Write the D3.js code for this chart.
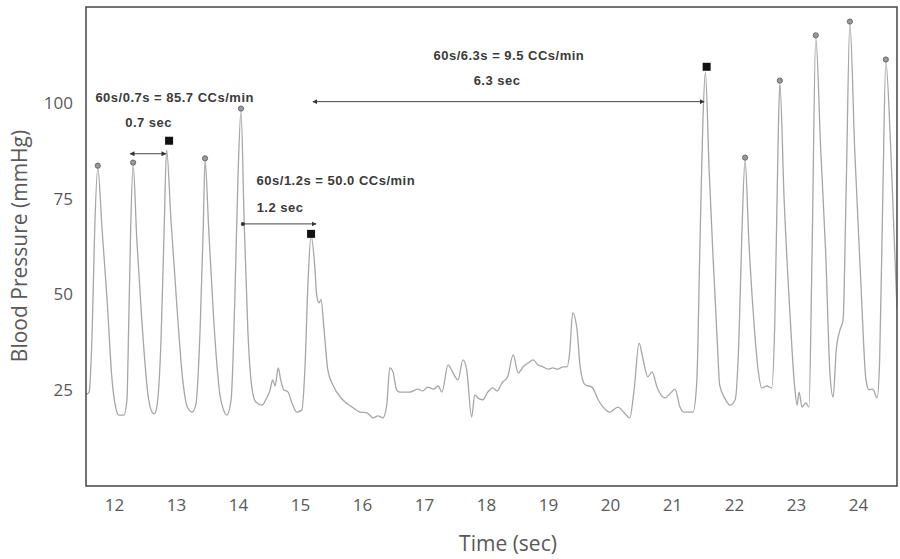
<!DOCTYPE html>
<html>
<head>
<meta charset="utf-8">
<script src="https://cdn.jsdelivr.net/npm/d3@7"></script>
<style>
  body { margin: 0; background: #fff; }
  svg { display: block; }
</style>
</head>
<body>
<script>
// blood pressure trace
const timeSec = [
  11.55, 11.60, 11.65, 11.69, 11.74, 11.81, 11.89, 11.97, 12.03, 12.08, 12.16, 12.21, 12.24, 12.27, 12.31,
  12.37, 12.45, 12.55, 12.60, 12.65, 12.69, 12.76, 12.81, 12.85, 12.92, 13.02, 13.11, 13.19, 13.26, 13.32,
  13.39, 13.44, 13.47, 13.53, 13.61, 13.71, 13.77, 13.82, 13.89, 13.95, 14.00, 14.05, 14.10, 14.16, 14.23,
  14.29, 14.39, 14.45, 14.52, 14.56, 14.60, 14.65, 14.69, 14.74, 14.81, 14.87, 14.95, 15.03, 15.08, 15.13,
  15.18, 15.24, 15.27, 15.31, 15.34, 15.39, 15.45, 15.53, 15.69, 15.84, 15.97, 16.08, 16.18, 16.26, 16.34,
  16.40, 16.45, 16.50, 16.56, 16.61, 16.77, 16.90, 16.98, 17.06, 17.16, 17.23, 17.29, 17.39, 17.47, 17.55,
  17.63, 17.69, 17.77, 17.82, 17.87, 17.95, 18.03, 18.11, 18.18, 18.26, 18.35, 18.44, 18.52, 18.60, 18.68,
  18.76, 18.84, 18.92, 19.00, 19.08, 19.16, 19.24, 19.31, 19.35, 19.40, 19.47, 19.52, 19.60, 19.71, 19.81,
  19.89, 20.00, 20.13, 20.23, 20.32, 20.39, 20.47, 20.53, 20.61, 20.68, 20.76, 20.89, 20.98, 21.05, 21.13,
  21.19, 21.34, 21.40, 21.45, 21.50, 21.54, 21.60, 21.66, 21.73, 21.77, 21.85, 21.94, 22.02, 22.08, 22.13,
  22.18, 22.24, 22.32, 22.39, 22.45, 22.53, 22.61, 22.66, 22.71, 22.74, 22.81, 22.90, 22.98, 23.02, 23.05,
  23.10, 23.16, 23.21, 23.26, 23.32, 23.40, 23.48, 23.55, 23.60, 23.65, 23.71, 23.76, 23.81, 23.87, 23.95,
  24.05, 24.13, 24.18, 24.24, 24.31, 24.35, 24.40, 24.45, 24.53, 24.63
];
const pressure = [
  23.8, 24.5, 40.7, 66.8, 83.0, 66.8, 48.6, 27.7, 20.4, 18.5, 18.5, 22.5, 43.3, 66.8, 83.8,
  64.2, 43.3, 23.8, 19.8, 18.8, 20.4, 38.1, 66.8, 87.7, 69.5, 46.0, 27.7, 20.4, 19.3, 21.1,
  40.7, 66.8, 84.9, 66.8, 43.3, 23.8, 19.8, 18.5, 22.5, 48.6, 79.9, 97.9, 69.5, 40.7, 25.1,
  21.9, 21.1, 22.5, 25.1, 27.7, 26.1, 30.8, 27.7, 25.1, 24.5, 21.7, 19.3, 19.8, 30.3, 53.0,
  65.3, 57.2, 49.9, 47.8, 48.6, 40.7, 30.3, 26.4, 22.5, 20.6, 19.3, 19.1, 17.8, 18.3, 17.8,
  21.1, 30.8, 29.8, 25.1, 24.5, 24.5, 25.3, 24.8, 25.8, 25.3, 26.1, 24.5, 31.6, 29.5, 27.7,
  32.9, 30.3, 18.0, 23.8, 23.0, 22.5, 24.5, 25.6, 24.8, 26.9, 28.5, 34.2, 29.5, 31.1, 32.1,
  32.9, 31.6, 31.1, 30.5, 30.8, 30.5, 31.1, 31.1, 34.7, 45.2, 40.7, 31.1, 26.4, 25.8, 22.5,
  20.6, 19.3, 20.6, 19.1, 17.8, 25.1, 37.3, 33.4, 28.5, 29.8, 25.8, 23.0, 24.3, 25.3, 20.6,
  19.3, 19.3, 26.9, 61.6, 95.6, 108.0, 82.5, 60.8, 38.1, 26.4, 23.0, 21.1, 22.5, 38.1, 66.8,
  85.1, 64.2, 43.3, 30.3, 25.6, 26.1, 25.6, 43.3, 87.7, 105.2, 74.7, 46.0, 25.8, 21.1, 24.5,
  20.6, 21.7, 20.6, 60.8, 117.0, 87.7, 60.8, 29.0, 23.2, 35.5, 40.7, 43.3, 77.3, 120.6, 86.9,
  52.0, 27.7, 25.1, 25.3, 23.0, 32.9, 74.7, 110.7, 87.7, 46.0
];

// round peak markers
const peakTimes = [11.74, 12.31, 13.47, 14.05, 22.18, 22.74, 23.32, 23.87, 24.45];
const peakValues = [83.6, 84.4, 85.5, 98.5, 85.7, 105.8, 117.6, 121.2, 111.3];

// square markers at the measured beats
const squareTimes = [12.89, 15.18, 21.56];
const squareValues = [90.1, 65.8, 109.4];

// interval arrows: start, end, level
const spanStart = [12.26, 14.08, 15.21];
const spanEnd = [12.84, 15.26, 21.52];
const spanLevel = [86.7, 68.4, 100.3];
const spanArrowLeft = [true, false, true];

// annotation texts and where they sit (data units)
const rateLabels = ["60s/0.7s = 85.7 CCs/min", "60s/1.2s = 50.0 CCs/min", "60s/6.3s = 9.5 CCs/min"];
const rateAt = [[12.98, 101.0], [15.58, 79.4], [18.37, 112.0]];
const secLabels = ["0.7 sec", "1.2 sec", "6.3 sec"];
const secAt = [[12.56, 94.5], [14.68, 72.3], [18.18, 105.5]];

const xTicks = [12, 13, 14, 15, 16, 17, 18, 19, 20, 21, 22, 23, 24];
const yTicks = [25, 50, 75, 100];

const width = 900, height = 559;
const margin = {left: 86, right: 3, top: 7, bottom: 73};
const grey = "#595959";

const x = d3.scaleLinear().domain([11.55, 24.63]).range([margin.left, width - margin.right]);
const y = d3.scaleLinear().domain([0, 125]).range([height - margin.bottom, margin.top]);

const svg = d3.select("body").append("svg")
    .attr("width", width)
    .attr("height", height)
    .attr("font-family", "'Open Sans', sans-serif");

const defs = svg.append("defs");
defs.append("clipPath").attr("id", "plot")
  .append("rect")
    .attr("x", margin.left).attr("y", margin.top)
    .attr("width", width - margin.left - margin.right)
    .attr("height", height - margin.top - margin.bottom);
defs.append("marker")
    .attr("id", "head")
    .attr("viewBox", "0 -5 10 10")
    .attr("refX", 9).attr("refY", 0)
    .attr("markerWidth", 5).attr("markerHeight", 5)
    .attr("orient", "auto-start-reverse")
  .append("path")
    .attr("d", "M0,-5L10,0L0,5Z")
    .attr("fill", "#333");
defs.append("marker")
    .attr("id", "dot")
    .attr("viewBox", "-5 -5 10 10")
    .attr("markerWidth", 5).attr("markerHeight", 5)
  .append("circle").attr("r", 4).attr("fill", "#333");

// axes, no tick marks
const xAxis = svg.append("g")
    .attr("transform", `translate(0,${height - margin.bottom})`)
    .call(d3.axisBottom(x).tickValues(xTicks).tickSize(0).tickPadding(13));
const yAxis = svg.append("g")
    .attr("transform", `translate(${margin.left},0)`)
    .call(d3.axisLeft(y).tickValues(yTicks).tickSize(0).tickPadding(13));
[xAxis, yAxis].forEach(g => {
  g.select(".domain").remove();
  g.selectAll("text").attr("font-size", 17).attr("fill", grey).attr("font-family", "'Open Sans', sans-serif");
});

svg.append("text")
    .attr("transform", `translate(21,246) rotate(-90)`)
    .attr("text-anchor", "middle")
    .attr("dominant-baseline", "middle")
    .attr("font-size", 21)
    .attr("fill", grey)
    .text("Blood Pressure (mmHg)");

svg.append("text")
    .attr("x", 508).attr("y", 545)
    .attr("text-anchor", "middle")
    .attr("dominant-baseline", "middle")
    .attr("font-size", 21)
    .attr("fill", grey)
    .text("Time (sec)");

// trace
const series = timeSec.map((t, i) => [t, pressure[i]]);
const line = d3.line()
    .x(d => x(d[0]))
    .y(d => y(d[1]))
    .curve(d3.curveMonotoneX);

svg.append("path")
    .datum(series)
    .attr("clip-path", "url(#plot)")
    .attr("fill", "none")
    .attr("stroke", "#a6a6a6")
    .attr("stroke-width", 1.3)
    .attr("d", line);

// frame
svg.append("rect")
    .attr("x", margin.left).attr("y", margin.top)
    .attr("width", width - margin.left - margin.right)
    .attr("height", height - margin.top - margin.bottom)
    .attr("fill", "none")
    .attr("stroke", "#505050")
    .attr("stroke-width", 1.6);

svg.append("g")
  .selectAll("circle")
  .data(peakTimes)
  .join("circle")
    .attr("cx", d => x(d))
    .attr("cy", (d, i) => y(peakValues[i]))
    .attr("r", 2.6)
    .attr("fill", "#999")
    .attr("stroke", "#6a6a6a")
    .attr("stroke-width", 1);

svg.append("g")
  .selectAll("rect")
  .data(squareTimes)
  .join("rect")
    .attr("x", d => x(d) - 4)
    .attr("y", (d, i) => y(squareValues[i]) - 4)
    .attr("width", 8)
    .attr("height", 8)
    .attr("fill", "#111");

svg.append("g")
  .selectAll("line")
  .data(spanStart)
  .join("line")
    .attr("x1", d => x(d))
    .attr("x2", (d, i) => x(spanEnd[i]))
    .attr("y1", (d, i) => y(spanLevel[i]))
    .attr("y2", (d, i) => y(spanLevel[i]))
    .attr("stroke", "#444")
    .attr("stroke-width", 1)
    .attr("marker-start", (d, i) => spanArrowLeft[i] ? "url(#head)" : "url(#dot)")
    .attr("marker-end", "url(#head)");

const notes = svg.append("g")
    .attr("font-family", "'Liberation Sans', Arial, sans-serif")
    .attr("font-weight", "bold")
    .attr("font-size", 13)
    .attr("letter-spacing", 0.5)
    .attr("fill", "#3a3a3a")
    .attr("text-anchor", "middle")
    .attr("dominant-baseline", "middle");

notes.selectAll("text.rate")
  .data(rateLabels)
  .join("text")
    .attr("class", "rate")
    .attr("x", (d, i) => x(rateAt[i][0]))
    .attr("y", (d, i) => y(rateAt[i][1]))
    .text(d => d);

notes.selectAll("text.sec")
  .data(secLabels)
  .join("text")
    .attr("class", "sec")
    .attr("x", (d, i) => x(secAt[i][0]))
    .attr("y", (d, i) => y(secAt[i][1]))
    .text(d => d);
</script>
</body>
</html>
